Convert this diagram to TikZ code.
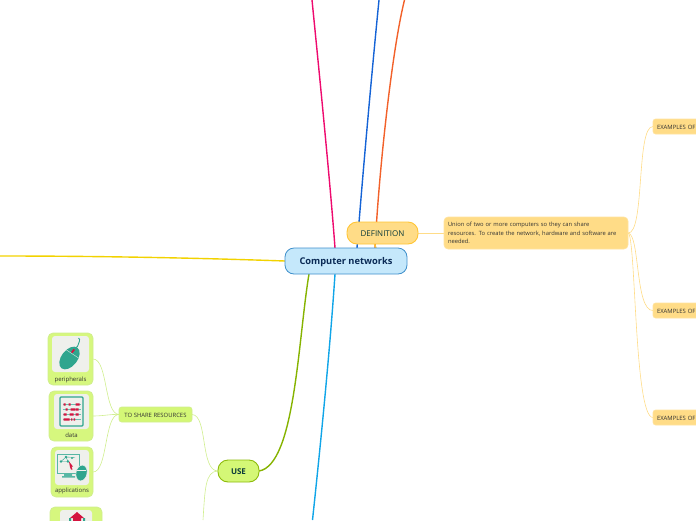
\documentclass[tikz,border=0pt]{standalone}
\usepackage{fontspec}
\setmainfont{Open Sans}
\usetikzlibrary{backgrounds,calc}
\definecolor{cblue}{HTML}{C5E8FB}\definecolor{cblueline}{HTML}{3E8FCB}
\definecolor{oran}{HTML}{FFDC87}\definecolor{oranline}{HTML}{FFC534}
\definecolor{oranlight}{HTML}{FFE3A0}
\definecolor{gree}{HTML}{D4F776}\definecolor{greeline}{HTML}{8DBB0B}
\definecolor{greelight}{HTML}{D0EE8E}\definecolor{greefill}{HTML}{D6F77E}
\definecolor{teal1}{HTML}{2FA58E}\definecolor{red1}{HTML}{D4143F}
\definecolor{paper}{HTML}{EFF0EC}\definecolor{ink}{HTML}{0B3A3A}
\definecolor{ypl}{HTML}{F2D200}\definecolor{pink1}{HTML}{EE0A6E}
\definecolor{blue1}{HTML}{1463D6}\definecolor{orng1}{HTML}{F2612A}
\definecolor{sky1}{HTML}{10A5E8}\definecolor{gr1}{HTML}{86B300}
\tikzset{
 x=1pt,y=-1pt,
 box/.style={draw,anchor=north west,inner sep=0pt,outer sep=0pt,align=center},
 central/.style={box,fill=cblue,draw=cblueline,line width=.8pt,rounded corners=9pt,minimum width=122pt,minimum height=26pt,text height=6.5pt,text depth=0pt,font=\fontsize{9.3}{11}\selectfont\bfseries\color[HTML]{0A2A55}},
 main/.style={box,line width=.9pt,rounded corners=10pt,text height=6pt,text depth=0pt,font=\fontsize{8}{9}\selectfont\color{ink}},
 desc/.style={box,fill=oran,draw=oranlight,line width=.6pt,rounded corners=4pt,minimum width=184pt,minimum height=32pt,align=left,text width=176pt,font=\fontsize{5.8}{8.5}\selectfont\color{black!80}},
 small/.style={box,line width=.6pt,rounded corners=2.5pt,minimum height=15pt,text height=5pt,text depth=0pt,font=\fontsize{5.9}{6}\selectfont\color{black!80}},
 card/.style={box,fill=greefill,draw=greelight,line width=.8pt,rounded corners=5pt},
 tile/.style={box,fill=paper,draw=none,rounded corners=3pt},
 captxt/.style={inner sep=0pt,font=\fontsize{6}{6}\selectfont\color{black!80}},
 thick1/.style={line width=1.4pt},
 thin1/.style={line width=.6pt},
}
\begin{document}
\begin{tikzpicture}
\useasboundingbox (0,0) rectangle (696,520);
\clip (0,0) rectangle (696,520);
% nodes
\node[central] (cn) at (285,248) {Computer networks};
\node[main,fill=oran,draw=oranline,minimum width=71pt,minimum height=22pt] (def) at (347,222) {DEFINITION};
\node[desc] (dd) at (444,217) {Union of two or more computers so they can share\\resources. To create the network, hardware and software are\\needed.};
\node[small,fill=oran,draw=oranlight,minimum width=60pt,text width=52pt,align=left] (e1) at (653,119) {EXAMPLES OF};
\node[small,fill=oran,draw=oranlight,minimum width=60pt,text width=52pt,align=left] (e2) at (653,303) {EXAMPLES OF};
\node[small,fill=oran,draw=oranlight,minimum width=60pt,text width=52pt,align=left] (e3) at (653,410) {EXAMPLES OF};
\node[main,fill=gree,draw=greeline,minimum width=41pt,minimum height=22pt,font=\fontsize{8}{9}\selectfont\bfseries\color{ink}] (use) at (218,460) {USE};
\node[small,fill=gree,draw=greelight,minimum width=73pt] (share) at (119,407) {TO SHARE RESOURCES};
% cards
\node[card,minimum width=45pt,minimum height=52pt] (c1) at (48,333) {};
\node[tile,minimum width=37pt,minimum height=36pt] (t1) at (52,336) {};
\node[captxt,below=4.5pt] at (t1.south) (l1) {peripherals};
\node[card,minimum width=44pt,minimum height=50pt] (c2) at (49,391) {};
\node[tile,minimum width=35pt,minimum height=35pt] (t2) at (54,394) {};
\node[captxt,below=3.5pt] at (t2.south) (l2) {data};
\node[card,minimum width=42pt,minimum height=50pt] (c3) at (51,447) {};
\node[tile,minimum width=34pt,minimum height=35pt] (t3) at (55,450) {};
\node[captxt,below=2.5pt] at (t3.south) (l3) {applications};
\node[card,minimum width=52pt,minimum height=50pt] (c4) at (50,507) {};
\node[tile,minimum width=32pt,minimum height=30pt] (t4) at (60,510) {};
% mouse icon
\begin{scope}[shift={(t1.center)}]
 \draw[teal1,line width=.9pt] (5,-6) .. controls (9,-8) and (7,-11) .. (9,-13) .. controls (10,-14.5) and (8.5,-15) .. (8,-16);
 \fill[teal1,rotate around={-38:(-1,4)}] (-1,4) ellipse (8pt and 13pt);
 \draw[paper,line width=.4pt] (-7,-6) -- (8,4);
 \fill[red1,rotate around={-38:(2.5,-3)}] (1.6,-5) rectangle (3.4,-1);
\end{scope}
% data icon
\begin{scope}[shift={(t2.center)}]
 \draw[teal1,line width=1.2pt,rounded corners=1pt] (-11.5,-14.5) rectangle (11.5,14.5);
 \foreach \yy in {-7,-2,3,8}{\draw[teal1!70,line width=.4pt] (-9,\yy) -- (9,\yy);}
 \fill[red1] (-8,-8.2) rectangle (-6,-5.8) (-3,-8.2) rectangle (-1,-5.8) (4,-8.2) rectangle (8,-5.8);
 \fill[red1] (-6,-3.2) rectangle (-4,-.8) (-1,-3.2) rectangle (4,-.8) (4.5,-3.2) rectangle (7,-.8);
 \fill[red1] (-8,1.8) rectangle (-5,4.2) (-2,1.8) rectangle (2,4.2) (4,1.8) rectangle (7,4.2);
 \fill[red1] (-8,6.8) rectangle (-2,9.2) (-.5,6.8) rectangle (.8,9.2) (2,6.8) rectangle (3.5,9.2);
\end{scope}
% applications icon
\begin{scope}[shift={(t3.center)}]
 \draw[teal1!80,line width=1pt] (-15,-13.5) rectangle (7,5.5);
 \fill[teal1!80] (-8,5.5) rectangle (0,8.5) (-10,8.5) rectangle (3,10);
 \fill[teal1] (-11,-6) circle (1.3pt) (-6,-10.5) circle (1.3pt) (-4,-6) circle (1.3pt) (0,-9.5) circle (1pt);
 \draw[teal1,line width=.4pt] (-11,-6) -- (-6,-10.5) -- (-4,-6) -- (-11,-6) (-6,-10.5) -- (3,-10);
 \fill[red1] (-3,-6) -- (1,-1) -- (-.5,-1) -- (.5,2) -- (-1,2) -- (-2,-.5) -- cycle;
 \fill[teal1,draw=paper,line width=.5pt,rotate around={-12:(9.5,5.5)}] (9.5,5.5) ellipse (5.5pt and 8pt);
 \draw[paper,line width=.4pt] (4.5,3) -- (14,3);
\end{scope}
% next icon (cut by the frame)
\begin{scope}[shift={(t4.north)}]
 \fill[teal1] (-7,8) rectangle (-5,12) (7,8) rectangle (9,12);
 \fill[red1] (1,2) -- (8,8) -- (5,8) -- (5,12) -- (-3,12) -- (-3,8) -- (-6,8) -- cycle;
\end{scope}
% connectors
\begin{pgfonlayer}{background}
\coordinate (y0) at (0,256);
\coordinate (p0) at (312,0);
\coordinate (b0) at (379,0);
\coordinate (o0) at (404.5,0);
\coordinate (s0) at (312.5,520);
\coordinate (u0) at (203,520);
\draw[thick1,ypl] (cn.west) .. controls (200,258) and (100,256) .. (y0);
\draw[thick1,pink1] ([xshift=-11pt]cn.north) .. controls (330,180) and (318,60) .. (p0);
\draw[thick1,blue1] ([xshift=11pt]cn.north) .. controls (363,170) and (373,60) .. (b0);
\draw[thick1,orng1] ([xshift=29pt]cn.north) .. controls (379,170) and (392,50) .. (o0);
\draw[thick1,oranline] ([xshift=30pt]cn.north) -- ([xshift=-8pt]def.south);
\draw[thick1,sky1] ([xshift=-11pt]cn.south) .. controls (330,350) and (320,450) .. (s0);
\draw[thick1,gr1] ([xshift=-37pt]cn.south) .. controls (298,340) and (295,465) .. (use.east);
\draw[thin1,oran] (def.east) -- (dd.west);
\draw[thin1,oran] (dd.east) .. controls (645,234) and (636,126) .. (e1.west);
\draw[thin1,oran] (dd.east) .. controls (640,234) and (635,311) .. (e2.west);
\draw[thin1,oran] (dd.east) .. controls (636,234) and (634,418) .. (e3.west);
\draw[thin1,greelight] (use.west) .. controls (200,471) and (208,415) .. (share.east);
\draw[thin1,greelight] (use.west) .. controls (205,471) and (205,490) .. (u0);
\draw[thin1,greelight] (share.west) .. controls (104,414) and (108,359) .. (c1.east);
\draw[thin1,greelight] (share.west) .. controls (110,414) and (104,416) .. (c2.east);
\draw[thin1,greelight] (share.west) .. controls (104,414) and (108,472) .. (c3.east);
\end{pgfonlayer}
\end{tikzpicture}
\end{document}
